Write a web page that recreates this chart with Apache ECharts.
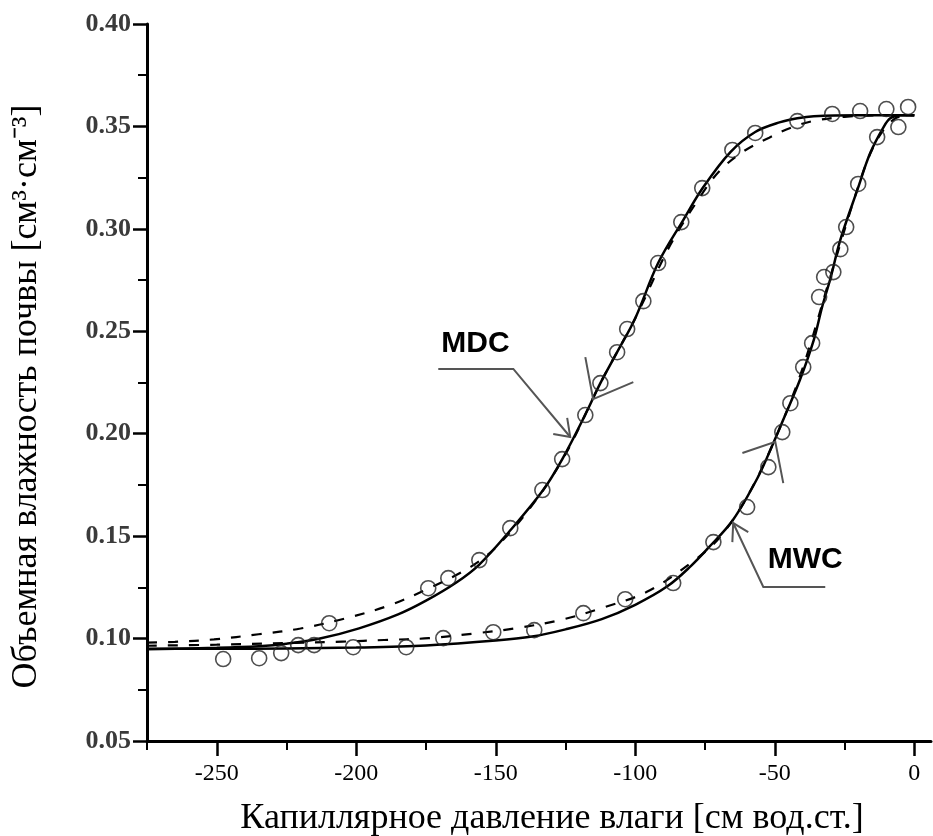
<!DOCTYPE html>
<html><head><meta charset="utf-8">
<script src="https://cdn.jsdelivr.net/npm/echarts@6/dist/echarts.min.js"></script>
<style>html,body{margin:0;padding:0;background:#fff}#c{width:933px;height:836px}</style>
</head><body><div id="c"></div>
<script>
// ---- tick labels ----
const xMajorTicks = [-250, -200, -150, -100, -50, 0];
const xMinorTicks = [-275, -225, -175, -125, -75, -25];

// ---- MDC: observed points ----
const mdcObsX = [-220.8, -209.7, -174.2, -167.0, -155.9, -144.8, -133.3, -126.2, -117.9, -112.5, -106.5, -102.9, -97.1, -91.8, -83.5, -76.0, -65.2, -57.0, -41.9, -29.4, -19.4, -10.0, -2.2];
const mdcObsY = [0.0968, 0.1075, 0.1246, 0.1295, 0.1383, 0.1539, 0.1725, 0.1876, 0.2091, 0.2247, 0.2398, 0.2511, 0.2647, 0.2833, 0.3033, 0.3199, 0.3385, 0.3468, 0.3526, 0.3561, 0.3575, 0.3585, 0.3595];

// ---- MDC: solid fitted curve ----
const mdcSolidX = [-275, -250, -235, -225, -213, -199, -185, -175, -164, -156, -145, -133, -126, -118, -112.5, -106.5, -100, -91.8, -82.8, -75.6, -65.9, -57, -48, -41.9, -36, -20, 0];
const mdcSolidY = [0.0948, 0.0955, 0.0963, 0.0975, 0.1000, 0.1050, 0.1118, 0.1185, 0.1275, 0.1360, 0.1525, 0.1725, 0.188, 0.2091, 0.2247, 0.2398, 0.2564, 0.2833, 0.3043, 0.3204, 0.3375, 0.3473, 0.3521, 0.354, 0.355, 0.3555, 0.3555];

// ---- MDC: dashed fitted curve ----
const mdcDashX = [-275, -265, -251, -235, -220, -204, -188, -174, -159, -150, -137, -125, -112.5, -100, -87.5, -75.6, -69.5, -61, -52, -44, -36, -25, -10, 0];
const mdcDashY = [0.098, 0.0984, 0.0996, 0.1021, 0.1049, 0.1098, 0.1163, 0.1245, 0.135, 0.1445, 0.165, 0.19, 0.2247, 0.2564, 0.292, 0.318, 0.3287, 0.338, 0.3445, 0.3495, 0.3527, 0.3547, 0.3555, 0.3555];

// ---- MWC: observed points ----
const mwcObsX = [-247.7, -234.8, -226.9, -215.1, -201.1, -182.1, -168.8, -150.9, -136.2, -118.6, -103.6, -86.4, -72.0, -59.9, -52.3, -47.3, -44.4, -39.8, -36.6, -34.1, -32.3, -29.0, -26.5, -24.4, -20.1, -13.3, -5.7];
const mwcObsY = [0.0900, 0.0904, 0.0929, 0.0968, 0.0958, 0.0958, 0.1002, 0.1031, 0.1041, 0.1124, 0.1192, 0.1271, 0.1471, 0.1642, 0.1837, 0.2008, 0.2149, 0.2325, 0.2442, 0.2667, 0.2765, 0.2789, 0.2901, 0.3009, 0.3219, 0.3448, 0.3497];

// ---- MWC: solid fitted curve ----
const mwcSolidX = [-275, -250, -225, -200, -175, -150, -137, -125, -112, -100, -88.5, -80, -74, -65, -56, -50.5, -47, -41, -36, -33, -30, -26.5, -20.4, -15.8, -11, -8.6, -5, 0];
const mwcSolidY = [0.0950, 0.0950, 0.0952, 0.0956, 0.0966, 0.0990, 0.1010, 0.1045, 0.1095, 0.1165, 0.1255, 0.1355, 0.1440, 0.1579, 0.1789, 0.1955, 0.2067, 0.2262, 0.2458, 0.262, 0.276, 0.2946, 0.319, 0.337, 0.3497, 0.354, 0.3555, 0.3555];

// ---- MWC: dashed fitted curve ----
const mwcDashX = [-275, -250, -225, -205, -190, -174, -157, -143, -127, -112, -96, -80, -70, -60, -50, -40, -30, -20, -15, -10, -5, 0];
const mwcDashY = [0.0965, 0.097, 0.0978, 0.0985, 0.0993, 0.1002, 0.1026, 0.105, 0.109, 0.1149, 0.1227, 0.137, 0.149, 0.169, 0.197, 0.232, 0.277, 0.321, 0.339, 0.350, 0.355, 0.3555];

// ---- annotation anchors (data coordinates) ----
const mdcLabelPos = [-157.3, 0.2438];
const mdcLeader = [[-170.6, 0.2316], [-143.7, 0.2316], [-123.3, 0.1984]];
const mdcLeaderHead = [[-129.4, 0.1999], [-123.3, 0.1984], [-124.4, 0.2077]];
const mdcDirArrow = [[-117.9, 0.2374], [-115.1, 0.2169], [-100.7, 0.2252]];
const mwcLabelPos = [-39.1, 0.1384];
const mwcLeader = [[-31.9, 0.1252], [-54.1, 0.1252], [-64.9, 0.1564]];
const mwcLeaderHead = [[-59.5, 0.1520], [-64.9, 0.1564], [-65.2, 0.1471]];
const mwcDirArrow = [[-61.6, 0.1906], [-49.8, 0.1960], [-46.95, 0.1759]];

const zip = (xs, ys) => xs.map((x, i) => [x, ys[i]]);

const chart = echarts.init(document.getElementById('c'), null, {renderer: 'canvas'});
const gridBox = {left: 147, right: 2, top: 24, bottom: 95, containLabel: false, outerBoundsMode: 'none'};
const lineCommon = {type: 'line', showSymbol: false, symbol: 'none', smooth: 0.35, silent: true, z: 2};

const option = {
  animation: false,
  backgroundColor: '#fff',
  grid: [Object.assign({}, gridBox), Object.assign({}, gridBox)],
  xAxis: [{
    type: 'value', gridIndex: 0, min: -275, max: 6,
    axisLine: {show: true, onZero: false, lineStyle: {color: '#000', width: 3}},
    axisTick: {show: true, customValues: xMajorTicks, length: 15, lineStyle: {color: '#000', width: 2.5}},
    axisLabel: {show: true, customValues: xMajorTicks, margin: 21, fontFamily: 'Liberation Serif', fontSize: 24, color: '#000'},
    splitLine: {show: false},
    name: 'Капиллярное давление влаги [см вод.ст.]',
    nameLocation: 'middle', nameGap: 60,
    nameTextStyle: {fontFamily: 'Liberation Serif', fontSize: 36, color: '#000', padding: [0, 0, 0, 26]}
  }, {
    type: 'value', gridIndex: 1, min: -275, max: 6,
    axisLine: {show: false},
    axisTick: {show: true, customValues: xMinorTicks, length: 9, lineStyle: {color: '#000', width: 2}},
    axisLabel: {show: false},
    splitLine: {show: false}
  }],
  yAxis: [{
    type: 'value', gridIndex: 0, min: 0.05, max: 0.40, interval: 0.05,
    axisLine: {show: true, onZero: false, lineStyle: {color: '#000', width: 3}},
    axisTick: {show: true, length: 14, lineStyle: {color: '#000', width: 2.5}},
    minorTick: {show: true, splitNumber: 2, length: 9, lineStyle: {color: '#000', width: 2}},
    axisLabel: {formatter: v => v.toFixed(2), margin: 16, fontFamily: 'Liberation Serif', fontWeight: 'bold', fontSize: 26, color: '#3a3a3a'},
    splitLine: {show: false},
    minorSplitLine: {show: false},
    name: 'Объемная влажность почвы [см³·см⁻³]',
    nameLocation: 'middle', nameGap: 102,
    nameTextStyle: {fontFamily: 'Liberation Serif', fontSize: 36, color: '#000', padding: [0, 28, 0, 0]}
  }, {
    type: 'value', gridIndex: 1, min: 0.05, max: 0.40, show: false
  }],
  series: [
    Object.assign({}, lineCommon, {name: 'MDC fit', data: zip(mdcSolidX, mdcSolidY), lineStyle: {color: '#000', width: 2.5}}),
    Object.assign({}, lineCommon, {name: 'MDC fit 2', data: zip(mdcDashX, mdcDashY), lineStyle: {color: '#000', width: 2.2, type: [10, 11]}}),
    Object.assign({}, lineCommon, {name: 'MWC fit', data: zip(mwcSolidX, mwcSolidY), lineStyle: {color: '#000', width: 2.5}}),
    Object.assign({}, lineCommon, {name: 'MWC fit 2', data: zip(mwcDashX, mwcDashY), lineStyle: {color: '#000', width: 2.2, type: [10, 11]}}),
    {type: 'scatter', name: 'MDC', data: zip(mdcObsX, mdcObsY), symbol: 'circle', symbolSize: 15,
      itemStyle: {color: 'rgba(0,0,0,0)', borderColor: '#222', borderWidth: 1.6}, z: 3, silent: true},
    {type: 'scatter', name: 'MWC', data: zip(mwcObsX, mwcObsY), symbol: 'circle', symbolSize: 15,
      itemStyle: {color: 'rgba(0,0,0,0)', borderColor: '#222', borderWidth: 1.6}, z: 3, silent: true}
  ]
};
chart.setOption(option);

// ---- annotations placed via the chart's own scales ----
const P = p => chart.convertToPixel({xAxisIndex: 0, yAxisIndex: 0}, p);
const poly = pts => ({type: 'polyline', silent: true, z: 10,
  shape: {points: pts.map(P)}, style: {stroke: '#555', lineWidth: 2, fill: null}});
const label = (txt, pos) => {
  const p = P(pos);
  return {type: 'text', silent: true, z: 10, x: p[0], y: p[1],
    style: {text: txt, fill: '#000', font: 'bold 30px "Liberation Sans", Arial, sans-serif', textAlign: 'center', textVerticalAlign: 'middle'}};
};
chart.setOption({graphic: [
  poly(mdcLeader), poly(mdcLeaderHead), poly(mdcDirArrow), label('MDC', mdcLabelPos),
  poly(mwcLeader), poly(mwcLeaderHead), poly(mwcDirArrow), label('MWC', mwcLabelPos)
]});
</script>
</body></html>
